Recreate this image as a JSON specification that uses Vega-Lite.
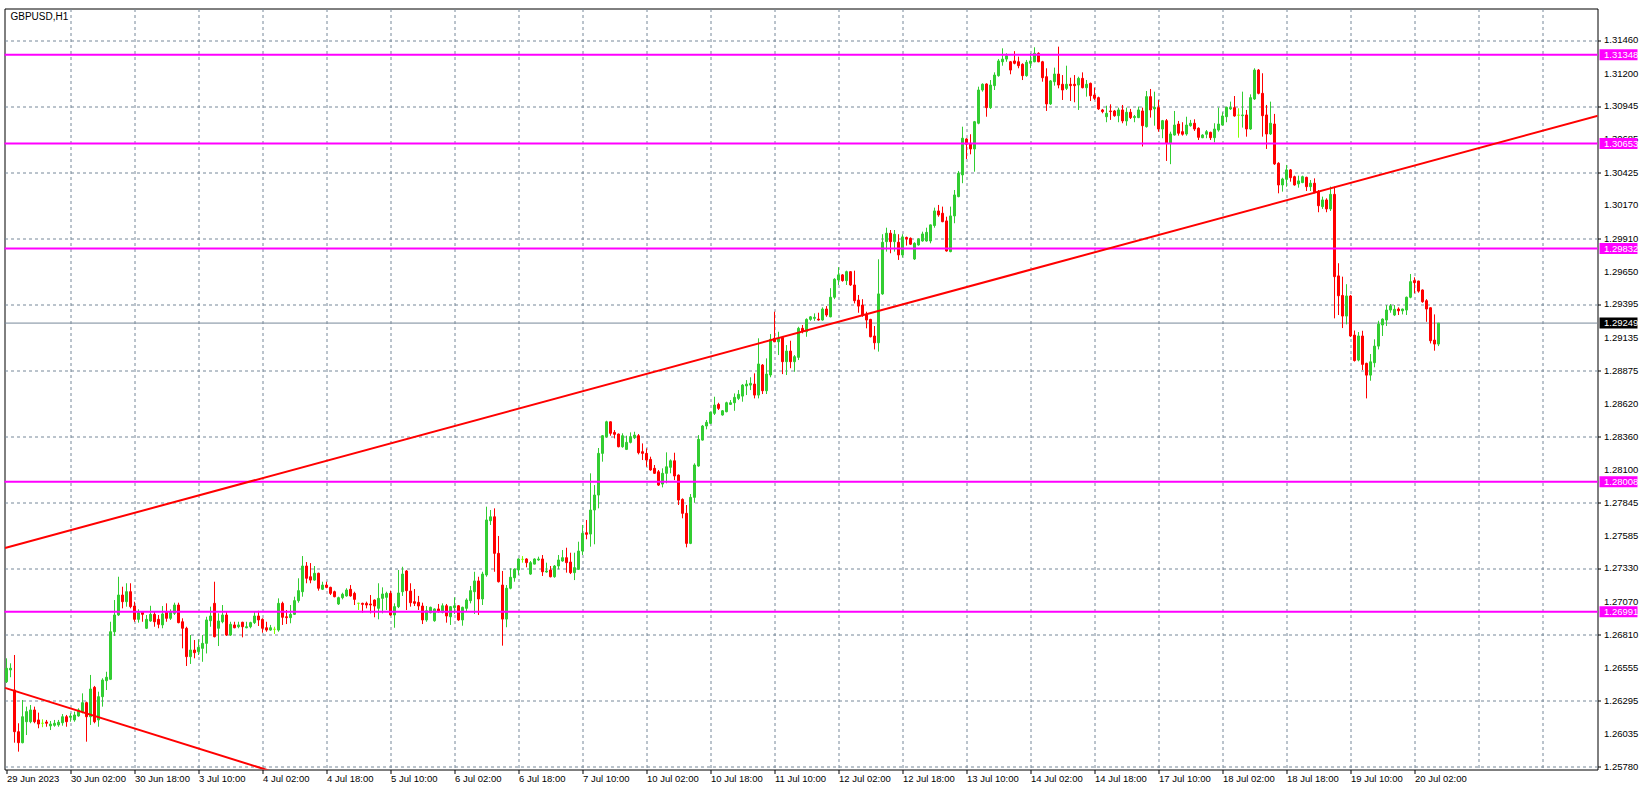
{
"$schema": "https://vega.github.io/schema/vega-lite/v6.json",
"width": 1593, "height": 761,
"autosize": {"type": "none"},
"padding": {"left": 4.5, "top": 8.5, "right": 42.5, "bottom": 17.5},
"background": "#ffffff",
"config": {"view": {"stroke": "#000000", "strokeWidth": 1}, "font": "Liberation Sans",
"axis": {"labelOverlap": false, "labelFlush": false, "labelBound": false}},
"datasets": {
"bars": [
{"i":0,"o":1.26444,"h":1.26627,"l":1.26434,"c":1.26549},{"i":1,"o":1.26536,"h":1.26588,"l":1.26479,"c":1.26549},{"i":2,"o":1.26379,"h":1.26653,"l":1.25967,"c":1.26053},{"i":3,"o":1.26053,"h":1.26119,"l":1.25897,"c":1.25967},{"i":4,"o":1.25967,"h":1.26301,"l":1.25962,"c":1.2617},{"i":5,"o":1.26131,"h":1.26249,"l":1.26027,"c":1.2621},{"i":6,"o":1.26131,"h":1.26262,"l":1.26119,"c":1.26223},{"i":7,"o":1.26223,"h":1.26249,"l":1.26119,"c":1.26131},{"i":8,"o":1.26145,"h":1.26202,"l":1.2608,"c":1.26113},{"i":9,"o":1.26119,"h":1.2615,"l":1.26088,"c":1.26119},
{"i":10,"o":1.26129,"h":1.26145,"l":1.26092,"c":1.26119},{"i":11,"o":1.26098,"h":1.26137,"l":1.26066,"c":1.26113},{"i":12,"o":1.26103,"h":1.26145,"l":1.26092,"c":1.26119},{"i":13,"o":1.26106,"h":1.26145,"l":1.26092,"c":1.26127},{"i":14,"o":1.26123,"h":1.26191,"l":1.261,"c":1.2617},{"i":15,"o":1.2617,"h":1.26184,"l":1.26092,"c":1.26131},{"i":16,"o":1.26166,"h":1.26197,"l":1.26131,"c":1.26176},{"i":17,"o":1.26145,"h":1.2621,"l":1.26131,"c":1.26184},{"i":18,"o":1.26176,"h":1.26236,"l":1.2617,"c":1.26223},{"i":19,"o":1.2621,"h":1.26353,"l":1.26197,"c":1.2628},
{"i":20,"o":1.2628,"h":1.26288,"l":1.25975,"c":1.2617},{"i":21,"o":1.2617,"h":1.26497,"l":1.26106,"c":1.26387},{"i":22,"o":1.264,"h":1.26411,"l":1.26119,"c":1.26131},{"i":23,"o":1.26145,"h":1.26366,"l":1.26092,"c":1.26327},{"i":24,"o":1.26327,"h":1.26471,"l":1.26249,"c":1.26457},{"i":25,"o":1.26452,"h":1.26522,"l":1.26379,"c":1.26479},{"i":26,"o":1.26463,"h":1.26913,"l":1.26457,"c":1.26835},{"i":27,"o":1.26835,"h":1.27083,"l":1.26802,"c":1.26966},{"i":28,"o":1.26966,"h":1.27265,"l":1.26958,"c":1.27122},{"i":29,"o":1.27122,"h":1.27187,"l":1.27018,"c":1.2707},
{"i":30,"o":1.2707,"h":1.27214,"l":1.27031,"c":1.27148},{"i":31,"o":1.27148,"h":1.27214,"l":1.27018,"c":1.27031},{"i":32,"o":1.27036,"h":1.2707,"l":1.26913,"c":1.26932},{"i":33,"o":1.26932,"h":1.2701,"l":1.26906,"c":1.26984},{"i":34,"o":1.26987,"h":1.26992,"l":1.26913,"c":1.26971},{"i":35,"o":1.26862,"h":1.26966,"l":1.26856,"c":1.26932},{"i":36,"o":1.26919,"h":1.27038,"l":1.26913,"c":1.26971},{"i":37,"o":1.26971,"h":1.26997,"l":1.26874,"c":1.26913},{"i":38,"o":1.26932,"h":1.26966,"l":1.26862,"c":1.26893},{"i":39,"o":1.26888,"h":1.27036,"l":1.26862,"c":1.26974},
{"i":40,"o":1.26992,"h":1.27057,"l":1.26913,"c":1.2694},{"i":41,"o":1.2694,"h":1.2701,"l":1.26927,"c":1.26992},{"i":42,"o":1.26979,"h":1.27062,"l":1.26966,"c":1.27044},{"i":43,"o":1.27044,"h":1.27062,"l":1.26901,"c":1.26906},{"i":44,"o":1.26913,"h":1.2694,"l":1.26705,"c":1.26862},{"i":45,"o":1.26862,"h":1.26874,"l":1.26567,"c":1.2664},{"i":46,"o":1.2664,"h":1.26809,"l":1.26583,"c":1.26692},{"i":47,"o":1.26692,"h":1.2677,"l":1.26627,"c":1.26671},{"i":48,"o":1.26679,"h":1.26776,"l":1.26653,"c":1.26713},{"i":49,"o":1.26705,"h":1.26809,"l":1.266,"c":1.26744},
{"i":50,"o":1.26744,"h":1.26952,"l":1.26665,"c":1.26927},{"i":51,"o":1.26921,"h":1.27031,"l":1.26874,"c":1.26958},{"i":52,"o":1.27057,"h":1.27226,"l":1.26791,"c":1.26796},{"i":53,"o":1.26862,"h":1.26979,"l":1.26723,"c":1.26919},{"i":54,"o":1.26913,"h":1.27044,"l":1.26901,"c":1.26966},{"i":55,"o":1.26966,"h":1.26992,"l":1.26802,"c":1.26809},{"i":56,"o":1.26809,"h":1.26913,"l":1.26802,"c":1.26893},{"i":57,"o":1.26888,"h":1.26913,"l":1.26862,"c":1.26866},{"i":58,"o":1.26874,"h":1.26913,"l":1.26862,"c":1.26888},{"i":59,"o":1.26909,"h":1.26913,"l":1.26791,"c":1.26874},
{"i":60,"o":1.26866,"h":1.26913,"l":1.26862,"c":1.26874},{"i":61,"o":1.26874,"h":1.26913,"l":1.26862,"c":1.26906},{"i":62,"o":1.26906,"h":1.26992,"l":1.26895,"c":1.26958},{"i":63,"o":1.26958,"h":1.26999,"l":1.2688,"c":1.26927},{"i":64,"o":1.26932,"h":1.2694,"l":1.26827,"c":1.26862},{"i":65,"o":1.26866,"h":1.26913,"l":1.26835,"c":1.26848},{"i":66,"o":1.26848,"h":1.26888,"l":1.26843,"c":1.26866},{"i":67,"o":1.26854,"h":1.26874,"l":1.26817,"c":1.26854},{"i":68,"o":1.26848,"h":1.27096,"l":1.26835,"c":1.27057},{"i":69,"o":1.27057,"h":1.2707,"l":1.26888,"c":1.26948},
{"i":70,"o":1.26952,"h":1.27005,"l":1.26895,"c":1.26945},{"i":71,"o":1.26945,"h":1.27044,"l":1.26901,"c":1.26971},{"i":72,"o":1.26971,"h":1.27109,"l":1.26966,"c":1.27078},{"i":73,"o":1.27078,"h":1.27253,"l":1.27062,"c":1.27156},{"i":74,"o":1.27148,"h":1.27427,"l":1.27109,"c":1.27349},{"i":75,"o":1.27349,"h":1.2738,"l":1.27214,"c":1.27253},{"i":76,"o":1.27265,"h":1.27372,"l":1.27214,"c":1.27239},{"i":77,"o":1.27239,"h":1.27349,"l":1.27234,"c":1.27292},{"i":78,"o":1.27292,"h":1.27297,"l":1.27156,"c":1.27175},{"i":79,"o":1.27167,"h":1.27226,"l":1.27161,"c":1.272},
{"i":80,"o":1.272,"h":1.27226,"l":1.27175,"c":1.27182},{"i":81,"o":1.27182,"h":1.27187,"l":1.27122,"c":1.27135},{"i":82,"o":1.27148,"h":1.27156,"l":1.27104,"c":1.27109},{"i":83,"o":1.27052,"h":1.27109,"l":1.27044,"c":1.27101},{"i":84,"o":1.27101,"h":1.2714,"l":1.27088,"c":1.27128},{"i":85,"o":1.27115,"h":1.27175,"l":1.27109,"c":1.27161},{"i":86,"o":1.27167,"h":1.272,"l":1.27109,"c":1.27115},{"i":87,"o":1.27135,"h":1.27148,"l":1.27044,"c":1.27088},{"i":88,"o":1.27057,"h":1.27062,"l":1.27005,"c":1.27057},{"i":89,"o":1.27057,"h":1.27062,"l":1.26984,"c":1.27049},
{"i":90,"o":1.27057,"h":1.2707,"l":1.27018,"c":1.27044},{"i":91,"o":1.27052,"h":1.27122,"l":1.26979,"c":1.27044},{"i":92,"o":1.27083,"h":1.27088,"l":1.26948,"c":1.27036},{"i":93,"o":1.27018,"h":1.27214,"l":1.26932,"c":1.27096},{"i":94,"o":1.27096,"h":1.27182,"l":1.26979,"c":1.2713},{"i":95,"o":1.27104,"h":1.27148,"l":1.27005,"c":1.27135},{"i":96,"o":1.27135,"h":1.27156,"l":1.2696,"c":1.26966},{"i":97,"o":1.26966,"h":1.27057,"l":1.26866,"c":1.27031},{"i":98,"o":1.27031,"h":1.27318,"l":1.2702,"c":1.27138},{"i":99,"o":1.27148,"h":1.27343,"l":1.27115,"c":1.27286},
{"i":100,"o":1.2731,"h":1.27318,"l":1.27005,"c":1.27156},{"i":101,"o":1.27153,"h":1.27214,"l":1.27031,"c":1.27062},{"i":102,"o":1.2707,"h":1.27169,"l":1.27036,"c":1.27057},{"i":103,"o":1.27065,"h":1.27115,"l":1.27005,"c":1.27036},{"i":104,"o":1.27036,"h":1.27062,"l":1.26895,"c":1.26927},{"i":105,"o":1.26927,"h":1.27036,"l":1.26913,"c":1.26999},{"i":106,"o":1.26984,"h":1.27031,"l":1.26979,"c":1.27026},{"i":107,"o":1.26921,"h":1.27018,"l":1.26913,"c":1.27013},{"i":108,"o":1.27013,"h":1.27052,"l":1.26984,"c":1.26992},{"i":109,"o":1.26987,"h":1.27057,"l":1.26979,"c":1.27038},
{"i":110,"o":1.27038,"h":1.27052,"l":1.26906,"c":1.26958},{"i":111,"o":1.26952,"h":1.27036,"l":1.26888,"c":1.27031},{"i":112,"o":1.27023,"h":1.27104,"l":1.26974,"c":1.27038},{"i":113,"o":1.27038,"h":1.27044,"l":1.2692,"c":1.26927},{"i":114,"o":1.26927,"h":1.27031,"l":1.26882,"c":1.27026},{"i":115,"o":1.27018,"h":1.27096,"l":1.26992,"c":1.27083},{"i":116,"o":1.27078,"h":1.27193,"l":1.27057,"c":1.27156},{"i":117,"o":1.27148,"h":1.27304,"l":1.26974,"c":1.27232},{"i":118,"o":1.27232,"h":1.27265,"l":1.26966,"c":1.27091},{"i":119,"o":1.27091,"h":1.27304,"l":1.27044,"c":1.27286},
{"i":120,"o":1.27279,"h":1.27813,"l":1.27265,"c":1.27709},{"i":121,"o":1.27703,"h":1.27787,"l":1.2767,"c":1.27734},{"i":122,"o":1.27734,"h":1.278,"l":1.27304,"c":1.27448},{"i":123,"o":1.27448,"h":1.27584,"l":1.2722,"c":1.27226},{"i":124,"o":1.272,"h":1.2731,"l":1.26726,"c":1.26934},{"i":125,"o":1.26934,"h":1.272,"l":1.2687,"c":1.27175},{"i":126,"o":1.27175,"h":1.27331,"l":1.27167,"c":1.27261},{"i":127,"o":1.27257,"h":1.27331,"l":1.27226,"c":1.27325},{"i":128,"o":1.27318,"h":1.27409,"l":1.27279,"c":1.27404},{"i":129,"o":1.27401,"h":1.27427,"l":1.27375,"c":1.27401},
{"i":130,"o":1.27404,"h":1.2741,"l":1.27339,"c":1.27375},{"i":131,"o":1.27286,"h":1.27388,"l":1.2728,"c":1.27375},{"i":132,"o":1.27364,"h":1.27409,"l":1.27362,"c":1.27404},{"i":133,"o":1.27396,"h":1.27422,"l":1.2739,"c":1.27404},{"i":134,"o":1.27404,"h":1.27435,"l":1.27271,"c":1.27304},{"i":135,"o":1.27302,"h":1.27375,"l":1.27297,"c":1.2731},{"i":136,"o":1.27318,"h":1.27349,"l":1.2726,"c":1.27265},{"i":137,"o":1.27265,"h":1.27357,"l":1.27257,"c":1.27349},{"i":138,"o":1.27349,"h":1.27435,"l":1.27323,"c":1.27396},{"i":139,"o":1.27388,"h":1.27474,"l":1.27383,"c":1.27414},
{"i":140,"o":1.27414,"h":1.27492,"l":1.27297,"c":1.27375},{"i":141,"o":1.2738,"h":1.27453,"l":1.27286,"c":1.27297},{"i":142,"o":1.27297,"h":1.27453,"l":1.27239,"c":1.27336},{"i":143,"o":1.27323,"h":1.27539,"l":1.27318,"c":1.27466},{"i":144,"o":1.27466,"h":1.2767,"l":1.27435,"c":1.27605},{"i":145,"o":1.27609,"h":1.27709,"l":1.27558,"c":1.27597},{"i":146,"o":1.27599,"h":1.28074,"l":1.275,"c":1.27787},{"i":147,"o":1.27787,"h":1.27982,"l":1.27519,"c":1.27904},{"i":148,"o":1.27904,"h":1.28272,"l":1.278,"c":1.2823},{"i":149,"o":1.2823,"h":1.28373,"l":1.28165,"c":1.28368},
{"i":150,"o":1.2836,"h":1.28485,"l":1.28352,"c":1.28477},{"i":151,"o":1.28477,"h":1.2848,"l":1.28368,"c":1.28387},{"i":152,"o":1.28394,"h":1.28412,"l":1.28347,"c":1.28379},{"i":153,"o":1.28381,"h":1.28385,"l":1.28277,"c":1.28282},{"i":154,"o":1.28282,"h":1.28387,"l":1.28274,"c":1.28368},{"i":155,"o":1.28261,"h":1.28368,"l":1.28256,"c":1.28316},{"i":156,"o":1.28316,"h":1.28394,"l":1.28308,"c":1.2836},{"i":157,"o":1.28352,"h":1.28399,"l":1.28342,"c":1.28373},{"i":158,"o":1.28368,"h":1.28381,"l":1.28222,"c":1.28235},{"i":159,"o":1.28243,"h":1.28308,"l":1.28178,"c":1.2823},
{"i":160,"o":1.2823,"h":1.28269,"l":1.28125,"c":1.28178},{"i":161,"o":1.28183,"h":1.28204,"l":1.28094,"c":1.281},{"i":162,"o":1.28113,"h":1.28139,"l":1.2807,"c":1.28074},{"i":163,"o":1.28086,"h":1.281,"l":1.27975,"c":1.27982},{"i":164,"o":1.2799,"h":1.28113,"l":1.27964,"c":1.28074},{"i":165,"o":1.28074,"h":1.28238,"l":1.27996,"c":1.28125},{"i":166,"o":1.28121,"h":1.28183,"l":1.28074,"c":1.28172},{"i":167,"o":1.28172,"h":1.28235,"l":1.28021,"c":1.28053},{"i":168,"o":1.2806,"h":1.28065,"l":1.27826,"c":1.27865},{"i":169,"o":1.2787,"h":1.27878,"l":1.27722,"c":1.27761},
{"i":170,"o":1.27761,"h":1.27826,"l":1.27495,"c":1.27526},{"i":171,"o":1.27526,"h":1.27912,"l":1.2752,"c":1.27886},{"i":172,"o":1.27886,"h":1.28152,"l":1.27844,"c":1.28139},{"i":173,"o":1.28131,"h":1.28373,"l":1.28125,"c":1.2834},{"i":174,"o":1.28334,"h":1.28452,"l":1.2833,"c":1.28444},{"i":175,"o":1.28444,"h":1.28491,"l":1.28418,"c":1.28473},{"i":176,"o":1.28465,"h":1.28556,"l":1.28459,"c":1.28551},{"i":177,"o":1.28543,"h":1.28673,"l":1.2853,"c":1.28608},{"i":178,"o":1.28613,"h":1.28626,"l":1.28569,"c":1.28582},{"i":179,"o":1.2853,"h":1.28569,"l":1.28525,"c":1.28563},
{"i":180,"o":1.28556,"h":1.28634,"l":1.28551,"c":1.28626},{"i":181,"o":1.28613,"h":1.28647,"l":1.28608,"c":1.28626},{"i":182,"o":1.28626,"h":1.28699,"l":1.28563,"c":1.28668},{"i":183,"o":1.2866,"h":1.28725,"l":1.28647,"c":1.28692},{"i":184,"o":1.28678,"h":1.28772,"l":1.28634,"c":1.28764},{"i":185,"o":1.28757,"h":1.28803,"l":1.28686,"c":1.28772},{"i":186,"o":1.28764,"h":1.28825,"l":1.28725,"c":1.28778},{"i":187,"o":1.28772,"h":1.28856,"l":1.2866,"c":1.28686},{"i":188,"o":1.28686,"h":1.2913,"l":1.2866,"c":1.28929},{"i":189,"o":1.28921,"h":1.28929,"l":1.28694,"c":1.2872},
{"i":190,"o":1.2872,"h":1.28973,"l":1.28694,"c":1.2885},{"i":191,"o":1.28843,"h":1.29163,"l":1.28825,"c":1.29122},{"i":192,"o":1.2913,"h":1.29338,"l":1.291,"c":1.29103},{"i":193,"o":1.29103,"h":1.29181,"l":1.28999,"c":1.2913},{"i":194,"o":1.29137,"h":1.29148,"l":1.2885,"c":1.28947},{"i":195,"o":1.28947,"h":1.29077,"l":1.28843,"c":1.2903},{"i":196,"o":1.2903,"h":1.29111,"l":1.28896,"c":1.28947},{"i":197,"o":1.28947,"h":1.28999,"l":1.28868,"c":1.28986},{"i":198,"o":1.28981,"h":1.2922,"l":1.2896,"c":1.29208},{"i":199,"o":1.29208,"h":1.29234,"l":1.29169,"c":1.29187},
{"i":200,"o":1.29181,"h":1.29286,"l":1.29142,"c":1.29278},{"i":201,"o":1.29278,"h":1.29304,"l":1.29267,"c":1.29298},{"i":202,"o":1.29286,"h":1.29325,"l":1.29267,"c":1.29294},{"i":203,"o":1.2928,"h":1.2933,"l":1.29268,"c":1.29273},{"i":204,"o":1.29273,"h":1.29372,"l":1.29268,"c":1.29359},{"i":205,"o":1.29359,"h":1.29382,"l":1.29298,"c":1.29312},{"i":206,"o":1.29298,"h":1.29522,"l":1.29294,"c":1.29451},{"i":207,"o":1.29451,"h":1.296,"l":1.29436,"c":1.29592},{"i":208,"o":1.29586,"h":1.29686,"l":1.29547,"c":1.29626},{"i":209,"o":1.29626,"h":1.29632,"l":1.29573,"c":1.29581},
{"i":210,"o":1.29581,"h":1.29659,"l":1.29547,"c":1.29651},{"i":211,"o":1.29651,"h":1.29655,"l":1.2954,"c":1.29547},{"i":212,"o":1.29547,"h":1.29659,"l":1.29403,"c":1.29424},{"i":213,"o":1.29429,"h":1.29469,"l":1.2933,"c":1.29382},{"i":214,"o":1.2939,"h":1.29436,"l":1.29298,"c":1.29312},{"i":215,"o":1.29312,"h":1.29338,"l":1.29208,"c":1.29273},{"i":216,"o":1.29278,"h":1.29282,"l":1.29137,"c":1.29142},{"i":217,"o":1.29148,"h":1.29226,"l":1.29043,"c":1.29095},{"i":218,"o":1.29095,"h":1.29748,"l":1.29026,"c":1.29477},{"i":219,"o":1.29477,"h":1.29944,"l":1.2947,"c":1.29881},
{"i":220,"o":1.29886,"h":1.29995,"l":1.29808,"c":1.29952},{"i":221,"o":1.29952,"h":1.29977,"l":1.29795,"c":1.29886},{"i":222,"o":1.29886,"h":1.29977,"l":1.29808,"c":1.29944},{"i":223,"o":1.29881,"h":1.29944,"l":1.29743,"c":1.29782},{"i":224,"o":1.29782,"h":1.29944,"l":1.29762,"c":1.29923},{"i":225,"o":1.29919,"h":1.29925,"l":1.29855,"c":1.29907},{"i":226,"o":1.29912,"h":1.29919,"l":1.2986,"c":1.29866},{"i":227,"o":1.2975,"h":1.29881,"l":1.29743,"c":1.29873},{"i":228,"o":1.2986,"h":1.29912,"l":1.29855,"c":1.29907},{"i":229,"o":1.29891,"h":1.29964,"l":1.29886,"c":1.29946},
{"i":230,"o":1.29891,"h":1.29995,"l":1.29886,"c":1.29959},{"i":231,"o":1.29891,"h":1.3002,"l":1.29873,"c":1.30017},{"i":232,"o":1.30012,"h":1.30152,"l":1.29995,"c":1.30126},{"i":233,"o":1.30126,"h":1.30173,"l":1.30081,"c":1.30095},{"i":234,"o":1.30108,"h":1.3016,"l":1.30038,"c":1.30042},{"i":235,"o":1.30048,"h":1.30081,"l":1.29808,"c":1.29813},{"i":236,"o":1.29808,"h":1.3016,"l":1.29803,"c":1.30087},{"i":237,"o":1.30087,"h":1.3029,"l":1.3003,"c":1.30251},{"i":238,"o":1.30238,"h":1.30439,"l":1.30233,"c":1.30421},{"i":239,"o":1.30408,"h":1.30785,"l":1.30343,"c":1.30695},
{"i":240,"o":1.30689,"h":1.30695,"l":1.30532,"c":1.30648},{"i":241,"o":1.30655,"h":1.30726,"l":1.30569,"c":1.30611},{"i":242,"o":1.30611,"h":1.3083,"l":1.30433,"c":1.30824},{"i":243,"o":1.30812,"h":1.31098,"l":1.30804,"c":1.31072},{"i":244,"o":1.31072,"h":1.31124,"l":1.31059,"c":1.31117},{"i":245,"o":1.31119,"h":1.31124,"l":1.30863,"c":1.30934},{"i":246,"o":1.30934,"h":1.3115,"l":1.30924,"c":1.31111},{"i":247,"o":1.31106,"h":1.3121,"l":1.31072,"c":1.31189},{"i":248,"o":1.31184,"h":1.31314,"l":1.31176,"c":1.31299},{"i":249,"o":1.31293,"h":1.31398,"l":1.31262,"c":1.31314},
{"i":250,"o":1.31314,"h":1.31359,"l":1.31293,"c":1.3134},{"i":251,"o":1.31293,"h":1.31299,"l":1.31195,"c":1.31228},{"i":252,"o":1.31299,"h":1.31376,"l":1.31273,"c":1.31281},{"i":253,"o":1.31293,"h":1.31333,"l":1.31242,"c":1.31262},{"i":254,"o":1.31273,"h":1.31281,"l":1.3115,"c":1.31184},{"i":255,"o":1.31184,"h":1.31307,"l":1.31176,"c":1.31289},{"i":256,"o":1.31281,"h":1.31359,"l":1.31242,"c":1.31299},{"i":257,"o":1.31293,"h":1.31406,"l":1.31289,"c":1.31359},{"i":258,"o":1.31359,"h":1.31367,"l":1.31289,"c":1.31293},{"i":259,"o":1.31293,"h":1.313,"l":1.31137,"c":1.31168},
{"i":260,"o":1.31176,"h":1.31242,"l":1.30908,"c":1.30963},{"i":261,"o":1.30963,"h":1.3115,"l":1.30955,"c":1.31143},{"i":262,"o":1.31137,"h":1.31247,"l":1.31106,"c":1.31197},{"i":263,"o":1.31197,"h":1.31411,"l":1.31085,"c":1.31111},{"i":264,"o":1.31117,"h":1.31189,"l":1.30994,"c":1.31072},{"i":265,"o":1.31085,"h":1.31262,"l":1.31072,"c":1.31117},{"i":266,"o":1.31117,"h":1.31168,"l":1.30986,"c":1.31106},{"i":267,"o":1.31117,"h":1.31189,"l":1.30976,"c":1.31106},{"i":268,"o":1.31111,"h":1.31176,"l":1.30916,"c":1.31163},{"i":269,"o":1.31163,"h":1.3121,"l":1.31085,"c":1.3109},
{"i":270,"o":1.3109,"h":1.3115,"l":1.3102,"c":1.31117},{"i":271,"o":1.31124,"h":1.3113,"l":1.30986,"c":1.31027},{"i":272,"o":1.31033,"h":1.3109,"l":1.30994,"c":1.31007},{"i":273,"o":1.31012,"h":1.3102,"l":1.30916,"c":1.30924},{"i":274,"o":1.30916,"h":1.30924,"l":1.3089,"c":1.30903},{"i":275,"o":1.30863,"h":1.30949,"l":1.3082,"c":1.3089},{"i":276,"o":1.30908,"h":1.3096,"l":1.30838,"c":1.30903},{"i":277,"o":1.30908,"h":1.30916,"l":1.30863,"c":1.30871},{"i":278,"o":1.30871,"h":1.30934,"l":1.3082,"c":1.30916},{"i":279,"o":1.30916,"h":1.30955,"l":1.30812,"c":1.3083},
{"i":280,"o":1.3083,"h":1.30934,"l":1.30793,"c":1.30898},{"i":281,"o":1.30898,"h":1.30924,"l":1.30845,"c":1.30856},{"i":282,"o":1.30856,"h":1.30877,"l":1.3082,"c":1.30865},{"i":283,"o":1.30856,"h":1.30942,"l":1.30852,"c":1.30916},{"i":284,"o":1.30908,"h":1.30934,"l":1.3063,"c":1.30793},{"i":285,"o":1.30785,"h":1.31064,"l":1.30778,"c":1.3102},{"i":286,"o":1.3102,"h":1.3108,"l":1.30856,"c":1.30916},{"i":287,"o":1.30924,"h":1.31059,"l":1.30793,"c":1.30937},{"i":288,"o":1.30934,"h":1.30994,"l":1.30746,"c":1.30767},{"i":289,"o":1.30767,"h":1.30838,"l":1.30695,"c":1.30832},
{"i":290,"o":1.30832,"h":1.30845,"l":1.30517,"c":1.30655},{"i":291,"o":1.30655,"h":1.30746,"l":1.30492,"c":1.30728},{"i":292,"o":1.3072,"h":1.30908,"l":1.30715,"c":1.30798},{"i":293,"o":1.30806,"h":1.3083,"l":1.30715,"c":1.30734},{"i":294,"o":1.30746,"h":1.3082,"l":1.30715,"c":1.30726},{"i":295,"o":1.30728,"h":1.30863,"l":1.30715,"c":1.30798},{"i":296,"o":1.30793,"h":1.30838,"l":1.30785,"c":1.30812},{"i":297,"o":1.30812,"h":1.30843,"l":1.30752,"c":1.30767},{"i":298,"o":1.30773,"h":1.3078,"l":1.30681,"c":1.30702},{"i":299,"o":1.30699,"h":1.30726,"l":1.30695,"c":1.3072},
{"i":300,"o":1.30726,"h":1.30759,"l":1.30695,"c":1.30746},{"i":301,"o":1.30741,"h":1.30746,"l":1.30681,"c":1.30699},{"i":302,"o":1.30699,"h":1.30812,"l":1.30663,"c":1.30767},{"i":303,"o":1.30759,"h":1.30934,"l":1.30746,"c":1.30806},{"i":304,"o":1.30798,"h":1.30898,"l":1.30793,"c":1.30869},{"i":305,"o":1.30863,"h":1.30942,"l":1.3082,"c":1.30937},{"i":306,"o":1.30924,"h":1.30981,"l":1.30916,"c":1.30934},{"i":307,"o":1.30934,"h":1.31025,"l":1.30863,"c":1.30869},{"i":308,"o":1.30875,"h":1.30929,"l":1.30699,"c":1.30875},{"i":309,"o":1.30871,"h":1.31059,"l":1.30778,"c":1.30877},
{"i":310,"o":1.30877,"h":1.30916,"l":1.30707,"c":1.30767},{"i":311,"o":1.30767,"h":1.31038,"l":1.3076,"c":1.31012},{"i":312,"o":1.31002,"h":1.31242,"l":1.30994,"c":1.31228},{"i":313,"o":1.31228,"h":1.31236,"l":1.31038,"c":1.31046},{"i":314,"o":1.31046,"h":1.31203,"l":1.30707,"c":1.30871},{"i":315,"o":1.30877,"h":1.30955,"l":1.30611,"c":1.30728},{"i":316,"o":1.30728,"h":1.30981,"l":1.3072,"c":1.30812},{"i":317,"o":1.30806,"h":1.30885,"l":1.30486,"c":1.30494},{"i":318,"o":1.30499,"h":1.30507,"l":1.30264,"c":1.30329},{"i":319,"o":1.30329,"h":1.30386,"l":1.30277,"c":1.30376},
{"i":320,"o":1.30374,"h":1.30486,"l":1.30316,"c":1.30447},{"i":321,"o":1.30447,"h":1.30454,"l":1.30355,"c":1.30386},{"i":322,"o":1.30394,"h":1.30402,"l":1.30324,"c":1.30329},{"i":323,"o":1.30338,"h":1.30402,"l":1.30308,"c":1.30361},{"i":324,"o":1.30348,"h":1.30402,"l":1.30343,"c":1.30394},{"i":325,"o":1.30389,"h":1.30394,"l":1.30282,"c":1.30316},{"i":326,"o":1.30316,"h":1.30368,"l":1.30282,"c":1.30343},{"i":327,"o":1.30343,"h":1.30381,"l":1.30264,"c":1.30274},{"i":328,"o":1.30277,"h":1.3029,"l":1.30116,"c":1.30167},{"i":329,"o":1.3016,"h":1.30238,"l":1.30142,"c":1.30212},
{"i":330,"o":1.30212,"h":1.30225,"l":1.30116,"c":1.30142},{"i":331,"o":1.30142,"h":1.30316,"l":1.30126,"c":1.30256},{"i":332,"o":1.30256,"h":1.30316,"l":1.29286,"c":1.29612},{"i":333,"o":1.29618,"h":1.29717,"l":1.29312,"c":1.29463},{"i":334,"o":1.29465,"h":1.29612,"l":1.2921,"c":1.29304},{"i":335,"o":1.29304,"h":1.29553,"l":1.29239,"c":1.29461},{"i":336,"o":1.29461,"h":1.29469,"l":1.2914,"c":1.29148},{"i":337,"o":1.29155,"h":1.29191,"l":1.28948,"c":1.28956},{"i":338,"o":1.2896,"h":1.29179,"l":1.2895,"c":1.29148},{"i":339,"o":1.29148,"h":1.29189,"l":1.28882,"c":1.28926},
{"i":340,"o":1.28934,"h":1.28939,"l":1.2866,"c":1.28842},{"i":341,"o":1.28842,"h":1.29007,"l":1.28798,"c":1.28946},{"i":342,"o":1.28939,"h":1.29122,"l":1.28903,"c":1.29069},{"i":343,"o":1.29069,"h":1.29267,"l":1.29043,"c":1.29241},{"i":344,"o":1.29234,"h":1.29286,"l":1.29148,"c":1.2928},{"i":345,"o":1.29273,"h":1.2939,"l":1.29226,"c":1.29351},{"i":346,"o":1.29351,"h":1.29398,"l":1.2933,"c":1.29384},{"i":347,"o":1.29312,"h":1.2939,"l":1.29304,"c":1.29357},{"i":348,"o":1.29359,"h":1.29372,"l":1.29312,"c":1.29345},{"i":349,"o":1.29345,"h":1.29362,"l":1.29317,"c":1.29359},
{"i":350,"o":1.29351,"h":1.29456,"l":1.29312,"c":1.29451},{"i":351,"o":1.29451,"h":1.29633,"l":1.29443,"c":1.29573},{"i":352,"o":1.29581,"h":1.29607,"l":1.29482,"c":1.29565},{"i":353,"o":1.29578,"h":1.2958,"l":1.29487,"c":1.29499},{"i":354,"o":1.29508,"h":1.29512,"l":1.29408,"c":1.29416},{"i":355,"o":1.29424,"h":1.29436,"l":1.29259,"c":1.29359},{"i":356,"o":1.29369,"h":1.29372,"l":1.2909,"c":1.29111},{"i":357,"o":1.29116,"h":1.29317,"l":1.29033,"c":1.29085},{"i":358,"o":1.29085,"h":1.29249,"l":1.29069,"c":1.29249}
],
"levels": [{"p":1.31348},{"p":1.30653},{"p":1.29832},{"p":1.28008},{"p":1.26991}],
"current": [{"p":1.29249}],
"yticks": [{"p":1.2578},{"p":1.26035},{"p":1.26295},{"p":1.26555},{"p":1.2681},{"p":1.2707},{"p":1.2733},{"p":1.27585},{"p":1.27845},{"p":1.281},{"p":1.2836},{"p":1.2862},{"p":1.28875},{"p":1.29135},{"p":1.29395},{"p":1.2965},{"p":1.2991},{"p":1.3017},{"p":1.30425},{"p":1.30685},{"p":1.30945},{"p":1.312},{"p":1.3146}],
"trend1": [{"i":-0.375,"p":1.2749},{"i":397.875,"p":1.30871}],
"trend2": [{"i":-0.375,"p":1.26396},{"i":70,"p":1.25706}]
},
"layer": [
{
"data": {"name": "current"},
"mark": {"type": "rule", "color": "#778899", "strokeWidth": 1},
"encoding": {
"y": {"field": "p", "type": "quantitative", "title": null,
"scale": {"domain": [1.257574, 1.317095], "nice": false, "zero": false, "padding": 0},
"axis": {"orient": "right", "title": null, "values": [1.2578,1.26035,1.26295,1.26555,1.2681,1.2707,1.2733,1.27585,1.27845,1.281,1.2836,1.2862,1.28875,1.29135,1.29395,1.2965,1.2991,1.3017,1.30425,1.30685,1.30945,1.312,1.3146],
"labels": false, "grid": true, "gridDash": [3,3], "gridColor": "#778899", "gridWidth": 1, "gridOpacity": 1,
"domain": false, "tickColor": "#000000", "tickSize": 3}}
}
},
{
"data": {"name": "bars"},
"mark": {"type": "rule", "strokeWidth": 1},
"encoding": {
"x": {"field": "i", "type": "quantitative", "title": null,
"scale": {"domain": [-0.5, 397.75], "nice": false, "zero": false, "padding": 0},
"axis": {"title": null, "values": [0,8,16,24,32,40,48,56,64,72,80,88,96,104,112,120,128,136,144,152,160,168,176,184,192,200,208,216,224,232,240,248,256,264,272,280,288,296,304,312,320,328,336,344,352,360,368,376,384,392],
"labelExpr": "(datum.value % 16 == 0 && datum.value <= 352) ? ['29 Jun 2023','30 Jun 02:00','30 Jun 18:00','3 Jul 10:00','4 Jul 02:00','4 Jul 18:00','5 Jul 10:00','6 Jul 02:00','6 Jul 18:00','7 Jul 10:00','10 Jul 02:00','10 Jul 18:00','11 Jul 10:00','12 Jul 02:00','12 Jul 18:00','13 Jul 10:00','14 Jul 02:00','14 Jul 18:00','17 Jul 10:00','18 Jul 02:00','18 Jul 18:00','19 Jul 10:00','20 Jul 02:00'][datum.value / 16] : ''",
"grid": true, "gridDash": [3,3], "gridColor": "#778899", "gridWidth": 1, "gridOpacity": {"condition": {"test": "datum.value == 0", "value": 0}, "value": 1},
"domain": false, "tickColor": "#000000", "tickSize": 4,
"tickOpacity": {"condition": {"test": "datum.value % 16 != 0 || datum.value > 352", "value": 0}, "value": 1},
"labelAlign": "left", "labelBaseline": "top", "labelPadding": 0, "labelFontSize": 9.5, "labelColor": "#000000",
"labelOverlap": false, "labelFlush": false, "labelBound": false}},
"y": {"field": "l", "type": "quantitative", "title": null},
"y2": {"field": "h"},
"color": {"condition": [{"test": "datum.c > datum.o", "value": "#32CD32"}, {"test": "datum.c < datum.o", "value": "#FF0000"}], "value": "#7FFF00"}
}
},
{
"data": {"name": "bars"},
"mark": {"type": "bar", "size": 2, "strokeWidth": 1},
"encoding": {
"x": {"field": "i", "type": "quantitative", "title": null},
"y": {"field": "o", "type": "quantitative", "title": null},
"y2": {"field": "c"},
"fill": {"condition": [{"test": "datum.c > datum.o", "value": "#32CD32"}, {"test": "datum.c < datum.o", "value": "#FF0000"}], "value": "#7FFF00"},
"stroke": {"condition": [{"test": "datum.c > datum.o", "value": "#32CD32"}, {"test": "datum.c < datum.o", "value": "#FF0000"}], "value": "#7FFF00"}
}
},
{
"data": {"name": "levels"},
"mark": {"type": "rule", "color": "#FF00FF", "strokeWidth": 2},
"encoding": {"y": {"field": "p", "type": "quantitative", "title": null}}
},
{
"data": {"name": "trend1"},
"mark": {"type": "line", "color": "#FF0000", "strokeWidth": 2, "clip": true},
"encoding": {"x": {"field": "i", "type": "quantitative", "title": null}, "y": {"field": "p", "type": "quantitative", "title": null}}
},
{
"data": {"name": "trend2"},
"mark": {"type": "line", "color": "#FF0000", "strokeWidth": 2, "clip": true},
"encoding": {"x": {"field": "i", "type": "quantitative", "title": null}, "y": {"field": "p", "type": "quantitative", "title": null}}
},
{
"data": {"name": "yticks"},
"mark": {"type": "text", "align": "left", "baseline": "middle", "dx": 6.5, "fontSize": 9.5, "color": "#000000", "clip": false},
"encoding": {"x": {"datum": 397.75}, "y": {"field": "p", "type": "quantitative", "title": null}, "text": {"field": "p", "type": "quantitative", "format": ".5f"}}
},
{
"data": {"name": "levels"},
"mark": {"type": "bar", "orient": "horizontal", "size": 11, "color": "#FF00FF", "clip": false},
"encoding": {"x": {"datum": 398.25}, "x2": {"datum": 407.75}, "y": {"field": "p", "type": "quantitative", "title": null}}
},
{
"data": {"name": "levels"},
"mark": {"type": "text", "align": "left", "baseline": "middle", "dx": 6.5, "fontSize": 9.5, "color": "#ffffff"},
"encoding": {"x": {"datum": 397.75}, "y": {"field": "p", "type": "quantitative", "title": null}, "text": {"field": "p", "type": "quantitative", "format": ".5f"}}
},
{
"data": {"name": "current"},
"mark": {"type": "bar", "orient": "horizontal", "size": 11, "color": "#000000", "clip": false},
"encoding": {"x": {"datum": 398.25}, "x2": {"datum": 407.75}, "y": {"field": "p", "type": "quantitative", "title": null}}
},
{
"data": {"name": "current"},
"mark": {"type": "text", "align": "left", "baseline": "middle", "dx": 6.5, "fontSize": 9.5, "color": "#ffffff"},
"encoding": {"x": {"datum": 397.75}, "y": {"field": "p", "type": "quantitative", "title": null}, "text": {"field": "p", "type": "quantitative", "format": ".5f"}}
},
{
"data": {"values": [{"name": "GBPUSD,H1"}]},
"mark": {"type": "text", "align": "left", "baseline": "middle", "dx": 6, "dy": 8.5, "fontSize": 10, "color": "#000000"},
"encoding": {"x": {"datum": -0.5}, "y": {"datum": 1.317095}, "text": {"field": "name", "type": "nominal"}}
}
]
}
